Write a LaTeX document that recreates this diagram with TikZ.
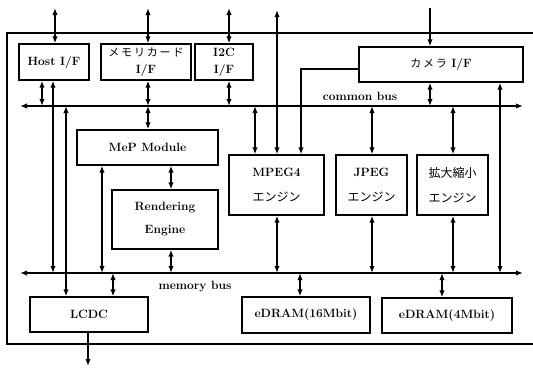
\documentclass[tikz,border=0pt]{standalone}
\usepackage{fontspec}
\newfontfamily\jp{Noto Sans CJK JP}
\newcommand\jpt[2][11]{{\jp\mdseries\fontsize{#1}{#1}\selectfont #2}}
\usetikzlibrary{arrows.meta}
\begin{document}
\begin{tikzpicture}[x=1pt,y=-1pt,
  line width=1.6pt,
  tip/.tip={Latex[length=7pt,width=5.4pt]},
  box/.style={draw,line width=1.3pt,rectangle,inner sep=0pt,align=center,font=\bfseries\fontsize{12}{14}\selectfont},
  conn/.style={{tip}-{tip}},
  oneway/.style={-{tip}},
  lbl/.style={inner sep=0pt,font=\bfseries\fontsize{12}{14}\selectfont}]
\useasboundingbox (0,0) rectangle (533,367);
% frame
\draw[line width=1.3pt] (533,33) -- (7,33) -- (7,344) -- (533,344);
% boxes
\node[box,minimum width=70pt,minimum height=36pt] (hostif) at (54,62) {Host I/F};
\node[box,minimum width=90pt,minimum height=36pt,font=\bfseries\fontsize{12}{17}\selectfont] (memcard) at (146,62) {\jpt{メ\,モ\,リ\,カ\,ー\,ド}\\I/F};
\node[box,minimum width=58pt,minimum height=36pt,font=\bfseries\fontsize{12}{17}\selectfont] (i2c) at (224,62) {I2C\\I/F};
\node[box,minimum width=164pt,minimum height=35pt] (camera) at (441,64.5) {\jpt{カ\,メ\,ラ} I/F};
\node[box,minimum width=141pt,minimum height=35pt] (mep) at (147.5,147.5) {MeP Module};
\node[box,minimum width=106pt,minimum height=59pt,font=\bfseries\fontsize{12}{23}\selectfont] (render) at (165,219.5) {Rendering\\Engine};
\node[box,minimum width=95pt,minimum height=60pt,font=\bfseries\fontsize{12}{25}\selectfont] (mpeg) at (276.5,185) {MPEG4\\\jpt[12]{エンジン}};
\node[box,minimum width=71pt,minimum height=60pt,font=\bfseries\fontsize{12}{25}\selectfont] (jpeg) at (371.5,185) {JPEG\\\jpt[12]{エンジン}};
\node[box,minimum width=71pt,minimum height=60pt,font=\bfseries\fontsize{12}{25}\selectfont] (scale) at (452.5,185) {\jpt[12]{拡大縮小}\\\jpt[12]{エンジン}};
\node[box,minimum width=118pt,minimum height=35pt] (lcdc) at (89,314.5) {LCDC};
\node[box,minimum width=128pt,minimum height=36pt] (edramA) at (306,315) {eDRAM(16Mbit)};
\node[box,minimum width=130pt,minimum height=35pt] (edramB) at (447,315.5) {eDRAM(4Mbit)};
% buses
\coordinate (cbL) at (20,106); \coordinate (cbR) at (523,106);
\coordinate (mbL) at (20,273); \coordinate (mbR) at (523,273);
\draw[conn] (cbL) -- (cbR);
\draw[conn] (mbL) -- (mbR);
\node[lbl] (cblabel) at (360,96) {common bus};
\node[lbl] (mblabel) at (195,287) {memory bus};
% tap coordinates
\foreach \x in {42,66,148,229,255,372,430,453}{\coordinate (cb\x) at (\x,106);}
\foreach \x in {53,102,113,171,277,300,372,442,453,500}{\coordinate (mb\x) at (\x,273);}
\foreach \x in {55,148,229,430}{\coordinate (tp\x) at (\x,8);}
\coordinate (tp277) at (277,10);
\coordinate (out) at (88,366);
\coordinate (bend) at (301,69);
% top external
\draw[conn] (hostif.north -| tp55) -- (tp55);
\draw[conn] (memcard.north -| tp148) -- (tp148);
\draw[conn] (i2c.north -| tp229) -- (tp229);
\draw[conn] (mpeg.north -| tp277) -- (tp277);
\draw[oneway] (tp430) -- (camera.north -| tp430);
% to common bus
\draw[conn] (hostif.south -| cb42) -- (cb42);
\draw[conn] (memcard.south -| cb148) -- (cb148);
\draw[conn] (cb148) -- (mep.north -| cb148);
\draw[conn] (i2c.south -| cb229) -- (cb229);
\draw[conn] (cb66) -- (lcdc.north -| cb66);
\draw[conn] (cb255) -- (mpeg.north -| cb255);
\draw[conn] (cb372) -- (jpeg.north -| cb372);
\draw[conn] (cb453) -- (scale.north -| cb453);
\draw[conn] (camera.south -| cb430) -- (cb430);
\draw[oneway] (camera.west |- bend) -- (bend) -- (mpeg.north -| bend);
% to memory bus
\draw[conn] (hostif.south -| mb53) -- (mb53);
\draw[conn] (camera.south -| mb500) -- (mb500);
\draw[conn] (mep.south -| mb102) -- (mb102);
\draw[conn] (mep.south -| mb171) -- (render.north -| mb171);
\draw[conn] (render.south -| mb171) -- (mb171);
\draw[conn] (mpeg.south -| mb277) -- (mb277);
\draw[conn] (jpeg.south -| mb372) -- (mb372);
\draw[conn] (scale.south -| mb453) -- (mb453);
\draw[conn] (mb113) -- (lcdc.north -| mb113);
\draw[conn] (mb300) -- (edramA.north -| mb300);
\draw[conn] (mb442) -- (edramB.north -| mb442);
\draw[oneway] (lcdc.south -| out) -- (out);
\end{tikzpicture}
\end{document}
